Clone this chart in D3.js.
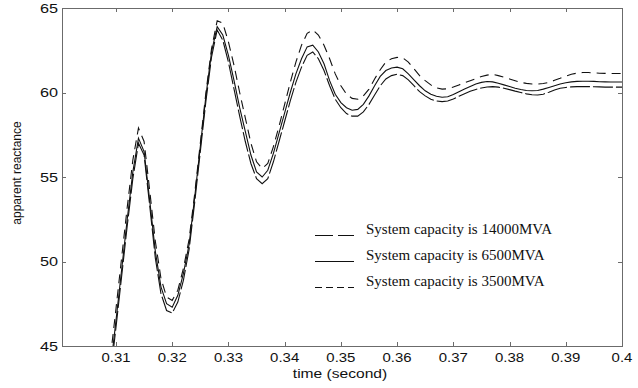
<!DOCTYPE html>
<html>
<head>
<meta charset="utf-8">
<script src="https://cdn.jsdelivr.net/npm/d3@7/dist/d3.min.js"></script>
<style>
  html, body { margin: 0; padding: 0; background: #fff; }
  svg { display: block; }
  .tick-label { font-family: "Liberation Sans", Arial, sans-serif; font-size: 13px; fill: #111; }
  .axis-title { font-family: "Liberation Sans", Arial, sans-serif; fill: #111; }
  .legend-text { font-family: "Liberation Serif", "Times New Roman", serif; font-size: 15px; fill: #111; }
</style>
</head>
<body>
<svg id="chart" width="638" height="388"></svg>
<script>
// Sample times (s)
const time = d3.range(0, 92).map(i => +(0.309 + i * 0.001).toFixed(3));

// Apparent reactance, system capacity 14000 MVA
const cap14000 = [
  44.3, 47.2, 50.2, 53.2, 56.0, 57.9, 57.1, 54.2, 51.2, 49.0,
  47.9, 47.7, 48.3, 49.6, 51.3, 54.0, 57.0, 60.0, 62.6, 64.25,
  64.1, 63.0, 61.6, 60.0, 58.5, 57.0, 55.9, 55.5, 55.8, 56.8,
  58.0, 59.3, 60.6, 61.8, 62.8, 63.5, 63.7, 63.4, 62.8, 62.0,
  61.1, 60.4, 59.9, 59.65, 59.6, 59.8, 60.2, 60.8, 61.35, 61.8,
  62.0, 62.08, 62.05, 61.8, 61.4, 61.0, 60.7, 60.45, 60.27, 60.2,
  60.22, 60.32, 60.45, 60.58, 60.7, 60.82, 60.95, 61.03, 61.07, 61.0,
  60.9, 60.8, 60.7, 60.6, 60.54, 60.5, 60.5, 60.53, 60.6, 60.72,
  60.84, 60.97, 61.08, 61.15, 61.18, 61.18, 61.16, 61.14, 61.13, 61.12,
  61.12, 61.12
];

// Apparent reactance, system capacity 6500 MVA
const cap6500 = [
  43.6, 46.5, 49.5, 52.5, 55.3, 57.3, 56.5, 53.6, 50.6, 48.5,
  47.5, 47.3, 48.0, 49.3, 51.0, 53.8, 56.8, 59.8, 62.4, 63.9,
  63.4, 62.2, 60.7, 59.1, 57.7, 56.3, 55.3, 55.0, 55.4, 56.4,
  57.6, 58.8, 60.0, 61.1, 62.0, 62.7, 62.8, 62.4, 61.7, 60.7,
  59.9, 59.4, 59.1, 58.95, 59.0, 59.3, 59.8, 60.4, 60.95, 61.3,
  61.45, 61.5, 61.4, 61.1, 60.75, 60.4, 60.1, 59.9, 59.78, 59.72,
  59.75, 59.88, 60.05, 60.2, 60.35, 60.5, 60.6, 60.65, 60.63, 60.55,
  60.45, 60.35, 60.25, 60.18, 60.12, 60.1, 60.12, 60.2, 60.3, 60.4,
  60.5, 60.58, 60.63, 60.66, 60.67, 60.67, 60.66, 60.64, 60.63, 60.62,
  60.62, 60.62
];

// Apparent reactance, system capacity 3500 MVA
const cap3500 = [
  43.2, 46.1, 49.1, 52.1, 54.9, 57.0, 56.3, 53.3, 50.2, 48.1,
  47.1, 46.95, 47.6, 48.9, 50.7, 53.5, 56.5, 59.5, 62.1, 63.7,
  63.1, 61.8, 60.2, 58.6, 57.1, 55.8, 54.9, 54.6, 54.9, 55.9,
  57.1, 58.3, 59.5, 60.6, 61.5, 62.2, 62.4, 62.0, 61.3, 60.4,
  59.6, 59.1, 58.75, 58.6, 58.6, 58.85, 59.3, 59.85, 60.4, 60.8,
  61.0, 61.08, 61.0, 60.75, 60.4, 60.05, 59.8, 59.6, 59.5, 59.46,
  59.5, 59.62, 59.78, 59.93, 60.07, 60.18, 60.27, 60.33, 60.35, 60.32,
  60.25, 60.17, 60.08, 60.0, 59.92, 59.87, 59.85, 59.9, 60.02, 60.15,
  60.25, 60.3, 60.33, 60.35, 60.35, 60.35, 60.34, 60.33, 60.32, 60.32,
  60.32, 60.32
];

const seriesNames = [
  "System capacity is 14000MVA",
  "System capacity is 6500MVA",
  "System capacity is 3500MVA"
];

const xTickValues = [0.31, 0.32, 0.33, 0.34, 0.35, 0.36, 0.37, 0.38, 0.39, 0.40];
const xTickLabels = ["0.31", "0.32", "0.33", "0.34", "0.35", "0.36", "0.37", "0.38", "0.39", "0.4"];
const yTickValues = [45, 50, 55, 60, 65];
const yTickLabels = ["45", "50", "55", "60", "65"];

const svg = d3.select("#chart");
const plotLeft = 62, plotRight = 622, plotTop = 8, plotBottom = 346;

const x = d3.scaleLinear().domain([0.3004, 0.4]).range([plotLeft, plotRight]);
const y = d3.scaleLinear().domain([45, 65]).range([plotBottom, plotTop]);

// Clip region for the curves
svg.append("defs").append("clipPath").attr("id", "plot-clip")
  .append("rect").attr("x", plotLeft).attr("y", plotTop)
  .attr("width", plotRight - plotLeft).attr("height", plotBottom - plotTop);

// Inward ticks on all four sides
const tickLen = 4;
const axisStroke = "#6b6b6b";
const tickG = svg.append("g").attr("stroke", axisStroke).attr("stroke-width", 1);
xTickValues.forEach(v => {
  const px = Math.round(x(v)) + 0.5;
  tickG.append("line").attr("x1", px).attr("x2", px).attr("y1", plotBottom).attr("y2", plotBottom - tickLen);
  tickG.append("line").attr("x1", px).attr("x2", px).attr("y1", plotTop).attr("y2", plotTop + tickLen);
});
yTickValues.forEach(v => {
  const py = Math.round(y(v)) + 0.5;
  tickG.append("line").attr("x1", plotLeft).attr("x2", plotLeft + tickLen).attr("y1", py).attr("y2", py);
  tickG.append("line").attr("x1", plotRight).attr("x2", plotRight - tickLen).attr("y1", py).attr("y2", py);
});

// Frame
svg.append("rect")
  .attr("x", plotLeft + 0.5).attr("y", plotTop + 0.5)
  .attr("width", plotRight - plotLeft).attr("height", plotBottom - plotTop)
  .attr("fill", "none").attr("stroke", axisStroke).attr("stroke-width", 1);

// Tick labels (slightly wide lettering)
svg.append("g").selectAll("text").data(xTickValues).join("text")
  .attr("class", "tick-label")
  .attr("transform", d => `translate(${x(d)},362) scale(1.15,1)`)
  .attr("text-anchor", "middle")
  .text((d, i) => xTickLabels[i]);

svg.append("g").selectAll("text").data(yTickValues).join("text")
  .attr("class", "tick-label")
  .attr("transform", d => `translate(58,${y(d) + 4.5}) scale(1.25,1)`)
  .attr("text-anchor", "end")
  .text((d, i) => yTickLabels[i]);

// Axis titles
svg.append("text").attr("class", "axis-title")
  .attr("transform", "translate(340,378) scale(1.2,1)")
  .attr("text-anchor", "middle")
  .attr("font-size", 13).text("time (second)");

svg.append("text").attr("class", "axis-title")
  .attr("transform", "translate(21,173) rotate(-90)")
  .attr("text-anchor", "middle").attr("font-size", 12)
  .text("apparent reactance");

// Curves
const styles = [
  { data: cap14000, dash: "9,6", legendDash: "18,5" },
  { data: cap6500, dash: null, legendDash: null },
  { data: cap3500, dash: "20,3", legendDash: "7,4" }
];

const line = d3.line()
  .x(d => x(d[0]))
  .y(d => y(d[1]));

const curves = svg.append("g").attr("clip-path", "url(#plot-clip)");
styles.forEach(s => {
  curves.append("path")
    .datum(time.map((t, i) => [t, s.data[i]]))
    .attr("d", line)
    .attr("fill", "none")
    .attr("stroke", "#111")
    .attr("stroke-width", 1.1)
    .attr("stroke-dasharray", s.dash);
});

// Legend
const legend = svg.append("g");
const rowBase = [234, 260, 286];
styles.forEach((s, i) => {
  const ly = rowBase[i] + 1.5;
  legend.append("line")
    .attr("x1", 315).attr("x2", 354)
    .attr("y1", ly).attr("y2", ly)
    .attr("stroke", "#111").attr("stroke-width", 1.1)
    .attr("stroke-dasharray", s.legendDash);
  legend.append("text").attr("class", "legend-text")
    .attr("x", 366).attr("y", rowBase[i])
    .text(seriesNames[i]);
});
</script>
</body>
</html>
